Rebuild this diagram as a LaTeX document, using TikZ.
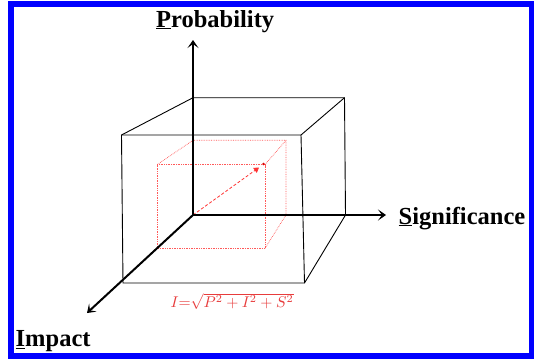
\documentclass[tikz,border=0pt]{standalone}
\usepackage{fontspec}
\usepackage{graphicx}
\setmainfont{Liberation Serif}
\usetikzlibrary{arrows.meta}
\definecolor{frameblue}{RGB}{0,0,255}
\definecolor{formred}{RGB}{232,60,60}
\tikzset{
  axis/.style={line width=2pt,-{Stealth[length=8pt,width=11pt,inset=4pt]}},
  cubeline/.style={line width=0.9pt,black},
  redcube/.style={line width=0.7pt,red!65,densely dotted},
  axlabel/.style={font=\fontsize{24.5}{28}\selectfont\bfseries,inner sep=0pt,anchor=base west},
}
\begin{document}
\begin{tikzpicture}[x=1pt,y=-1pt]
\useasboundingbox (0,0) rectangle (535,360);
\fill[white] (0,0) rectangle (535,360);
\draw[frameblue,line width=5.5pt] (11,4) rectangle (531.5,356);

% coordinates
\coordinate (O) at (193,215);
\coordinate (Ptip) at (193,40);
\coordinate (Stip) at (386,215);
\coordinate (Itip) at (87,313);

% black cube
\coordinate (fTL) at (121.5,135);
\coordinate (fTR) at (301,135);
\coordinate (fBL) at (123,283);
\coordinate (fBR) at (304.5,283);
\coordinate (bTL) at (193,97.7);
\coordinate (bTR) at (344.5,97.7);
\coordinate (bBR) at (345.5,215);
\draw[cubeline] (fTL) -- (fTR) -- (fBR) -- (fBL) -- cycle;
\draw[cubeline] (fTL) -- (bTL) -- (bTR) -- (bBR);
\draw[cubeline] (fTR) -- (bTR);
\draw[cubeline] (fBR) -- (bBR);

% red cube
\coordinate (rfTL) at (157.3,164.5);
\coordinate (rfTR) at (265,164.5);
\coordinate (rfBL) at (157.3,248.3);
\coordinate (rfBR) at (265,248.3);
\coordinate (rbTL) at (193,140.3);
\coordinate (rbTR) at (286,140.3);
\coordinate (rbBR) at (286,215);
\draw[redcube] (rfTL) -- (rfTR) -- (rfBR) -- (rfBL) -- cycle;
\draw[redcube] (rfTL) -- (rbTL) -- (rbTR) -- (rbBR);
\draw[redcube] (rfTR) -- (rbTR);
\draw[redcube] (rfBR) -- (rbBR);

% red vector
\draw[red!80,line width=0.8pt,densely dashed,-{Triangle[length=5pt,width=6pt]}] (O) -- (259,167.5);
\fill[red!85!black] (rfTR) ++(-1.5,-0.5) circle (1.4pt);

% axes
\draw[axis] (O) -- (Ptip);
\draw[axis] (O) -- (Stip);
\draw[axis] (O) -- (Itip);

% labels
\node[axlabel] (plab) at (156,27) {\underline{P}robability};
\node[axlabel] (slab) at (398.5,224) {\underline{S}ignificance};
\node[axlabel] (ilab) at (15.5,346.5) {\underline{I}mpact};

\node[text=formred,inner sep=0pt] (form) at (232,301) {\resizebox{123pt}{!}{$I{=}\sqrt{P^2+I^2+S^2}$}};
\end{tikzpicture}
\end{document}
